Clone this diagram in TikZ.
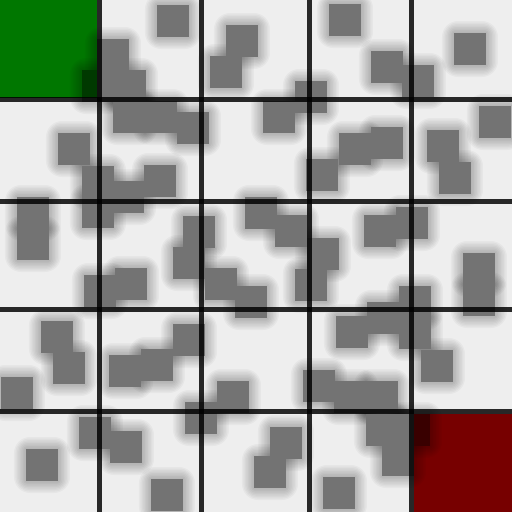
\documentclass[tikz,border=0pt]{standalone}
\usepackage{tikz}

\definecolor{floorgray}{RGB}{238,238,238}
\definecolor{blockgray}{RGB}{115,115,115}
\definecolor{gridline}{RGB}{42,42,42}
\definecolor{startgreen}{RGB}{0,128,0}
\definecolor{goalred}{RGB}{128,0,0}

\begin{document}
\begin{tikzpicture}[
  x=0.02cm, y=-0.02cm,
  floor/.style={fill=floorgray},
  blockshadow/.style={fill=black, fill opacity=0.032},
  block/.style={fill=blockgray},
  cellfill/.style={draw=none},
  gridrule/.style={draw=gridline, line width=0.096cm}
]

\def\bs{32}

% floor
\fill[floor] (0,0) rectangle (512,512);
\useasboundingbox (0,0) rectangle (512,512);

\def\blocks{157/5, 97/39, 82/70, 114/70, 226/25, 210/56,
  113/101, 145/101, 177/112, 58/133, 82/166, 82/196, 112/181, 144/165,
  17/197, 17/228, 183/216, 173/247, 245/197, 275/215, 307/238, 295/269,
  329/4, 371/51, 402/65, 454/33, 295/81, 263/101, 479/106,
  339/133, 371/127, 306/159, 427/130, 439/162, 364/215, 396/207,
  463/253, 463/284, 115/268, 84/275, 205/268, 235/286,
  41/321, 53/352, 1/377, 109/355, 141/349, 173/324, 217/381, 185/402,
  79/417, 110/431, 26/449, 151/479, 270/427, 254/456,
  399/286, 399/317, 367/302, 336/316, 421/350,
  303/370, 334/381, 366/381, 366/414, 398/414, 382/444, 323/477}

% soft shadows
\foreach \bx/\by in \blocks {
  \foreach \k in {1,...,8} {
    \fill[blockshadow, rounded corners=\k*0.04cm]
      (\bx-1.5*\k,\by-1.5*\k) rectangle ++(\bs+3*\k,\bs+3*\k);
  }
}

% blocks
\foreach \bx/\by in \blocks {
  \fill[block] (\bx,\by) rectangle ++(\bs,\bs);
}

% start and goal cells
\begin{scope}[blend mode=multiply]
  \fill[cellfill, startgreen] (0,0) rectangle (97.5,97.5);
  \fill[cellfill, goalred] (414,414) rectangle (512,512);
\end{scope}

% grid
\begin{scope}[blend mode=multiply]
  \foreach \g in {99.5, 201.8, 309.4, 411.8} {
    \draw[gridrule] (\g,0) -- (\g,512);
    \draw[gridrule] (0,\g) -- (512,\g);
  }
\end{scope}

\end{tikzpicture}
\end{document}
